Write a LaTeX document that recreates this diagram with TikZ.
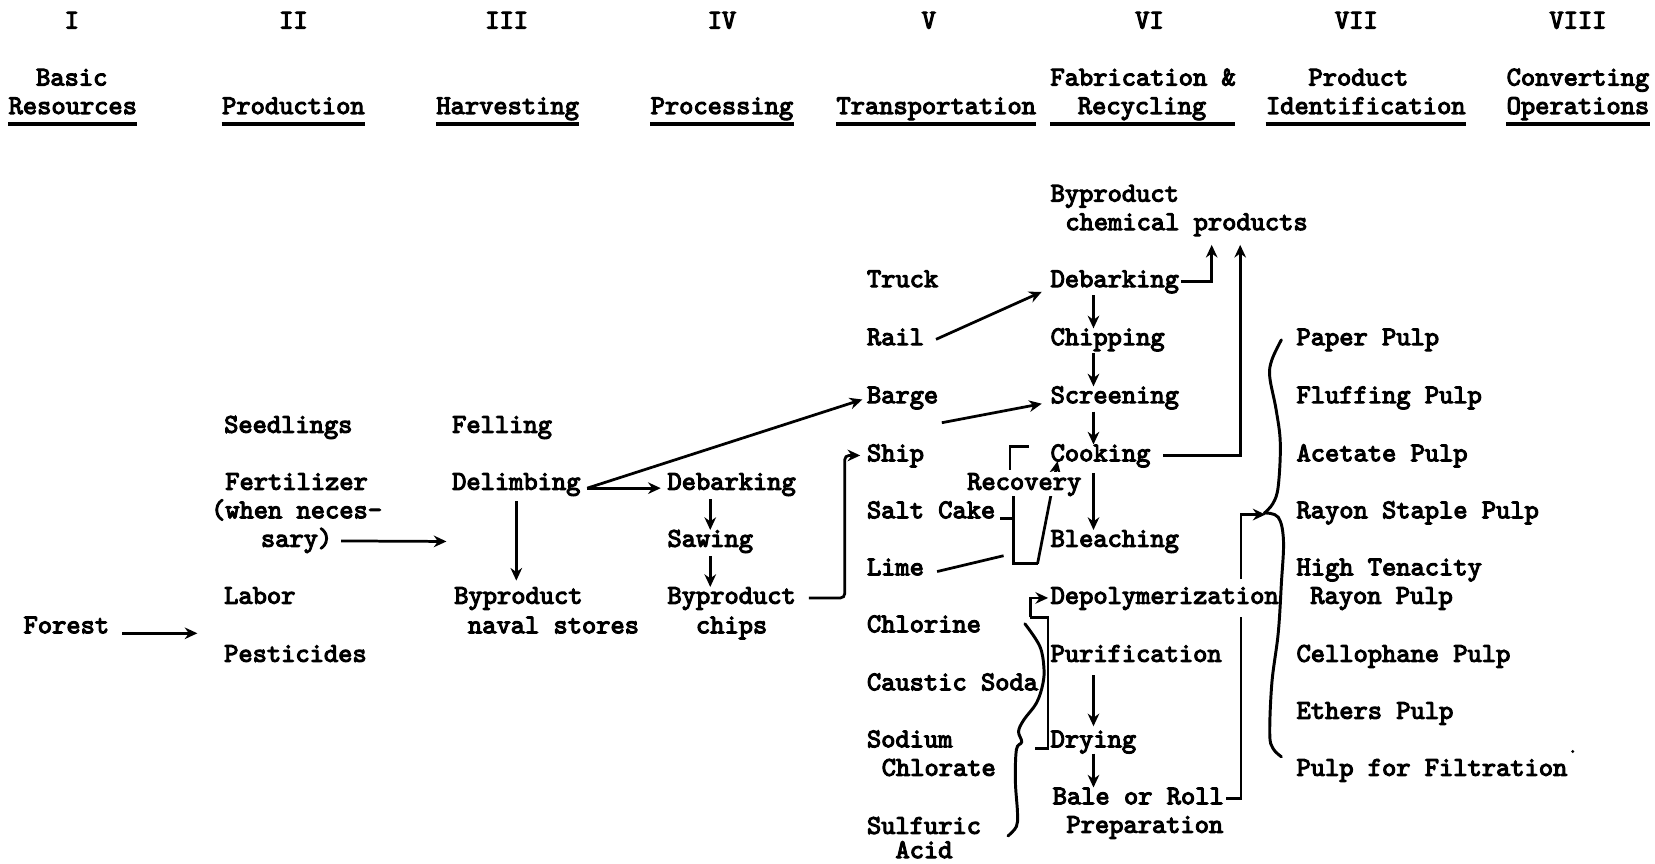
\documentclass[tikz,border=0pt]{standalone}
\usepackage{fontspec}
\newfontfamily\typewr{lmmono10-regular.otf}[FakeBold=4]
\usetikzlibrary{arrows.meta}

\begin{document}
\begin{tikzpicture}[x=0.5pt, y=-0.5pt,
    txt/.style={anchor=base west, inner sep=0pt, text height=7.75pt, text depth=2.25pt,
        font=\typewr\fontsize{12.86}{15}\selectfont},
    ctxt/.style={txt, anchor=base},
    mask/.style={fill=white, inner xsep=1pt, inner ysep=#1},
    mask/.default=1pt,
    arr/.style={line width=1.3pt, -{Stealth[length=6pt,width=5.5pt]}},
    ln/.style={line width=1.3pt},
    brace/.style={line width=1.4pt, line cap=round, line join=round},
    uline/.style={line width=1.8pt}]
    \useasboundingbox (0,0) rectangle (1568,818);

    % column numbers
    \foreach \num/\cx [count=\i] in {I/68, II/278, III/480, IV/684, V/880, VI/1089, VII/1285, VIII/1495}
        \node[ctxt] (num\i) at (\cx,27) {\num};

    % column headings
    \node[ctxt] (h1a) at (68,81) {Basic};
    \node[ctxt] (h1b) at (69,108) {Resources};
    \node[ctxt] (h2) at (278,108) {Production};
    \node[ctxt] (h3) at (481,108) {Harvesting};
    \node[ctxt] (h4) at (684,108) {Processing};
    \node[ctxt] (h5) at (887,108) {Transportation};
    \node[ctxt] (h6a) at (1083,81) {Fabrication \&};
    \node[ctxt] (h6b) at (1082,108) {Recycling};
    \node[ctxt] (h7a) at (1287,81) {Product};
    \node[ctxt] (h7b) at (1294,108) {Identification};
    \node[ctxt] (h8a) at (1495,81) {Converting};
    \node[ctxt] (h8b) at (1495,108) {Operations};
    \foreach \h in {h1b,h2,h3,h4,h5,h7b,h8b}
        \draw[uline] ([yshift=-2.25pt]\h.south west) -- ([yshift=-2.25pt]\h.south east);
    \draw[uline] (h6a.west |- h6b.south) ++(0,4.5) -- ++(175.5,0);

    % I basic resources
    \node[txt] (forest) at (22,600) {Forest};

    % II production
    \node[txt] (seed) at (212,410) {Seedlings};
    \node[ctxt] (fert) at (281,464) {Fertilizer};
    \node[ctxt] (fertb) at (281,491) {(when neces-};
    \node[ctxt] (fertc) at (281,518) {sary)};
    \node[txt] (labor) at (212,572) {Labor};
    \node[txt] (pest) at (212,627) {Pesticides};

    % III harvesting
    \node[txt] (fell) at (428,410) {Felling};
    \node[txt] (delimb) at (428,464) {Delimbing};
    \node[txt] (naval) at (430,572) {Byproduct};
    \node[txt] (navalb) at (443,600) {naval stores};

    % IV processing
    \node[txt] (pdebark) at (632,464) {Debarking};
    \node[txt] (saw) at (632,518) {Sawing};
    \node[txt] (chips) at (632,572) {Byproduct};
    \node[txt] (chipsb) at (659,600) {chips};

    % V transportation
    \foreach \nm/\lbl/\yy in {truck/Truck/272, rail/Rail/327, barge/Barge/382, ship/Ship/437,
            salt/Salt Cake/491, lime/Lime/545, chlor/Chlorine/599, caustic/Caustic Soda/654,
            sodium/Sodium/708, sulf/Sulfuric/790}
        \node[txt] (\nm) at (821,\yy) {\lbl};
    \node[txt] (sodiumb) at (835,735) {Chlorate};
    \node[txt] (sulfb) at (848,813) {Acid};

    % VI fabrication & recycling
    \node[txt] (chem) at (995,191) {Byproduct};
    \node[txt] (chemb) at (1009,218) {chemical products};
    \foreach \nm/\lbl/\yy in {fdebark/Debarking/272, chip/Chipping/327, screen/Screening/382,
            cook/Cooking/437, bleach/Bleaching/518, purif/Purification/627, dry/Drying/708}
        \node[txt] (\nm) at (995,\yy) {\lbl};
    \node[txt] (bale) at (997,762) {Bale or Roll};
    \node[txt] (baleb) at (1010,789) {Preparation};

    % VII product identification
    \foreach \nm/\lbl/\yy in {paper/Paper Pulp/327, fluff/Fluffing Pulp/382, acet/Acetate Pulp/437,
            rayon/Rayon Staple Pulp/491, tenac/High Tenacity/545, cello/Cellophane Pulp/627,
            ether/Ethers Pulp/681, filt/Pulp for Filtration/735}
        \node[txt] (\nm) at (1228,\yy) {\lbl};
    \node[txt] (tenacb) at (1241,572) {Rayon Pulp};
    \fill (1490,712) circle (1.5);

    % resources -> production -> harvesting
    \coordinate (prodin) at (187,600);
    \coordinate (harvin) at (423,513);
    \draw[arr] ([xshift=6pt]forest.base east) -- (prodin);
    \draw[arr] ([xshift=4pt]fertc.east) -- (harvin);

    % harvesting -> processing / transportation
    \coordinate (fork) at ([xshift=3pt,yshift=-2pt]delimb.east);
    \draw[arr, shorten <=3pt, shorten >=3pt] (delimb.south) -- (delimb.south |- naval.north);
    \draw[arr] (fork) -- ([xshift=-3pt,yshift=-2pt]pdebark.west);
    \draw[arr] (fork) -- ([xshift=-2pt,yshift=-1pt]barge.west);
    \draw[arr, shorten <=2pt] (saw.north |- pdebark.south) -- (saw.north);
    \draw[arr, shorten <=2pt] (saw.south) -- (saw.south |- chips.north);
    \draw[arr, rounded corners=2pt] ([xshift=6pt]chips.east) -- ++(34,0) |- ([xshift=-3pt]ship.west);

    % transportation -> fabrication
    \draw[arr] ([xshift=5.5pt]rail.east) -- ([xshift=-4pt,yshift=-5pt]fdebark.west);
    \draw[arr] ([xshift=1.5pt,yshift=-12pt]barge.east) -- ([xshift=-4pt,yshift=-3pt]screen.west);

    % fabrication steps
    \coordinate (fcol) at (1036,0);
    \draw[arr, shorten <=1.5pt] (fdebark.south -| fcol) -- (chip.north -| fcol);
    \draw[arr, shorten <=1.5pt] (chip.south -| fcol) -- (screen.north -| fcol);
    \draw[arr, shorten <=1.5pt] (screen.south -| fcol) -- (cook.north -| fcol);
    \draw[arr, shorten <=3pt] (cook.south -| fcol) -- (bleach.north -| fcol);
    \draw[arr, shorten <=4pt, shorten >=2pt] (purif.south -| fcol) -- (dry.north -| fcol);
    \draw[arr, shorten <=0.5pt] (dry.south -| fcol) -- (bale.north -| fcol);

    % byproduct chemical products
    \coordinate (chemin1) at (1148,232);
    \coordinate (chemin2) at (1175,232);
    \draw[arr] ([xshift=1pt]fdebark.east) -| (chemin1);
    \draw[arr] ([xshift=6pt]cook.east) -| (chemin2);

    % recovery loop
    \coordinate (rhook) at (957,445);
    \coordinate (rhookend) at (975,423);
    \coordinate (rtop) at (960,467);
    \coordinate (rbot) at (960,534);
    \coordinate (rturn) at (983,534);
    \draw[ln] (rhook) |- (rhookend);
    \draw[ln] (rtop) -- (rbot) -- (rturn);
    \draw[arr] (rturn) -- ([xshift=3.5pt,yshift=2.5pt]cook.south west);
    \draw[ln] ([xshift=2pt]salt.base east) -- (salt.base east -| rtop);
    \draw[ln] ([shift={(6pt,-1pt)}]lime.east) -- ++(63,-15);
    \node[txt, mask=0.5pt] (recov) at (914,464) {Recovery};

    % to product identification
    \coordinate (ptip) at ([xshift=-14.5pt,yshift=-1pt]rayon.west);
    \draw[arr] ([xshift=1pt]bale.east) -- ++(14,0) |- (ptip);
    \node[txt, mask=4pt] (depoly) at (993,572) {Depolymerization};

    % depolymerization bracket
    \coordinate (dbend) at (976,585);
    \coordinate (dtop) at (993,585);
    \coordinate (dbot) at (993,709);
    \draw[arr] (dbend) |- (depoly.west);
    \draw[ln] (dbend) -- (dtop) -- (dbot) -- ++(-12,0);

    % braces
    \draw[brace] plot[smooth, tension=0.6] coordinates {(971,591) (985,612) (989,632) (988,648)
        (982,666) (970,682) (965,693) (968,703) (963,710) (962,740) (964,770) (963,783) (955,792)};
    \draw[brace] plot[smooth, tension=0.6] coordinates {(1214,322) (1205,341) (1203,357)
        (1209,388) (1213,420) (1211,461) (1206,477) (1198,486)};
    \draw[brace] plot[smooth, tension=0.6] coordinates {(1198,486) (1211,490) (1216,512)
        (1214,553) (1211,600) (1205,647) (1203,695) (1206,709) (1214,717)};
\end{tikzpicture}
\end{document}
